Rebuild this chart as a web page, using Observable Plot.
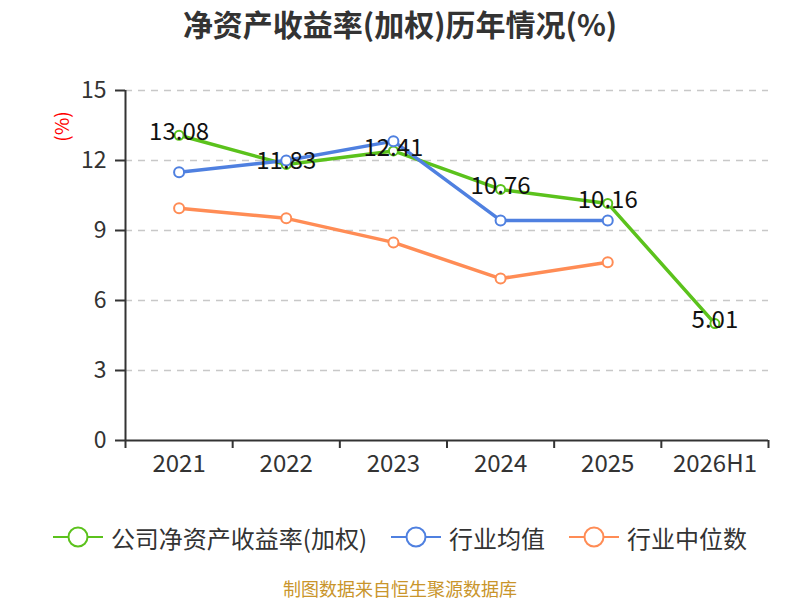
<!DOCTYPE html>
<html>
<head>
<meta charset="utf-8">
<script src="https://cdn.jsdelivr.net/npm/d3@7"></script>
<script src="https://cdn.jsdelivr.net/npm/@observablehq/plot@0.6"></script>
<style>
  body { margin: 0; width: 800px; height: 600px; overflow: hidden; background: #fff; font-family: "Noto Sans CJK SC", "Noto Sans", sans-serif; }
  #title { height: 46px; line-height: 46px; text-align: center; font-size: 30px; font-weight: bold; color: #333; }
  #legend { height: 42px; display: flex; justify-content: center; align-items: center; font-size: 24px; color: #333; padding-right: 0px; }
  .item { display: flex; align-items: center; margin: 0 12px; }
  .item svg { margin-right: 8px; }
  #caption { height: 60px; line-height: 60px; text-align: center; font-size: 18px; color: #c9952b; }
</style>
</head>
<body>
<div id="title">净资产收益率(加权)历年情况(%)</div>
<div id="chart"></div>
<div id="legend"></div>
<div id="caption">制图数据来自恒生聚源数据库</div>
<script>
const categories = ["2021", "2022", "2023", "2024", "2025", "2026H1"];
const companyROE = [13.08, 11.83, 12.41, 10.76, 10.16, 5.01];
const industryMean = [11.5, 12.0, 12.83, 9.43, 9.43];
const industryMedian = [9.95, 9.52, 8.49, 6.94, 7.64];
const seriesNames = ["公司净资产收益率(加权)", "行业均值", "行业中位数"];
const colors = ["#5bc21c", "#4f80e0", "#ff8c55"];
const yTicks = [0, 3, 6, 9, 12, 15];
const unitLabel = "(%)";

const rows = (vals) => vals.map((v, i) => ({i, v}));
const comp = rows(companyROE), mean = rows(industryMean), med = rows(industryMedian);
const boundaries = d3.range(categories.length + 1).map(k => k - 0.5);

const chart = Plot.plot({
  width: 800,
  height: 470,
  marginTop: 44,
  marginBottom: 76,
  marginLeft: 125,
  marginRight: 32,
  style: {fontFamily: "'Noto Sans CJK SC', 'Noto Sans', sans-serif", background: "transparent"},
  x: {domain: [-0.5, categories.length - 0.5]},
  y: {domain: [0, 15]},
  marks: [
    Plot.ruleY(yTicks.filter(t => t > 0), {stroke: "#c8c8c8", strokeWidth: 1.5, strokeDasharray: "7,6"}),
    Plot.axisY({ticks: yTicks, tickSize: 10, tickPadding: 9, fontSize: 23, color: "#333", stroke: "#333", strokeWidth: 2, label: null}),
    Plot.axisX({ticks: boundaries, tickSize: 8, tickFormat: () => "", stroke: "#333", strokeWidth: 2, label: null}),
    Plot.axisX({ticks: d3.range(categories.length), tickSize: 0, tickPadding: 14, tickFormat: i => categories[i], fontSize: 24, color: "#333", label: null}),
    Plot.ruleX([-0.5], {stroke: "#333", strokeWidth: 2}),
    Plot.ruleY([0], {stroke: "#333", strokeWidth: 2}),
    Plot.text([unitLabel], {frameAnchor: "top-left", dx: -63, dy: 36, rotate: -90, textAnchor: "middle", lineAnchor: "middle", fill: "red", fontSize: 19}),
    Plot.line(comp, {x: "i", y: "v", stroke: colors[0], strokeWidth: 3.5}),
    Plot.dot(comp, {x: "i", y: "v", r: 4.5, fill: "white", stroke: colors[0], strokeWidth: 2}),
    Plot.line(mean, {x: "i", y: "v", stroke: colors[1], strokeWidth: 3.5}),
    Plot.dot(mean, {x: "i", y: "v", r: 5, fill: "white", stroke: colors[1], strokeWidth: 2}),
    Plot.line(med, {x: "i", y: "v", stroke: colors[2], strokeWidth: 3.5}),
    Plot.dot(med, {x: "i", y: "v", r: 5, fill: "white", stroke: colors[2], strokeWidth: 2}),
    Plot.text(comp, {x: "i", y: "v", text: d => d.v.toFixed(2), dy: -3, fontSize: 24, fill: "#111", lineAnchor: "middle"})
  ]
});
document.getElementById("chart").appendChild(chart);

const legend = document.getElementById("legend");
seriesNames.forEach((name, k) => {
  const item = document.createElement("div");
  item.className = "item";
  item.innerHTML = `<svg width="50" height="24"><line x1="0" y1="12" x2="50" y2="12" stroke="${colors[k]}" stroke-width="2"/><circle cx="25" cy="12" r="9.5" fill="white" stroke="${colors[k]}" stroke-width="2"/></svg><span>${name}</span>`;
  legend.appendChild(item);
});
</script>
</body>
</html>
